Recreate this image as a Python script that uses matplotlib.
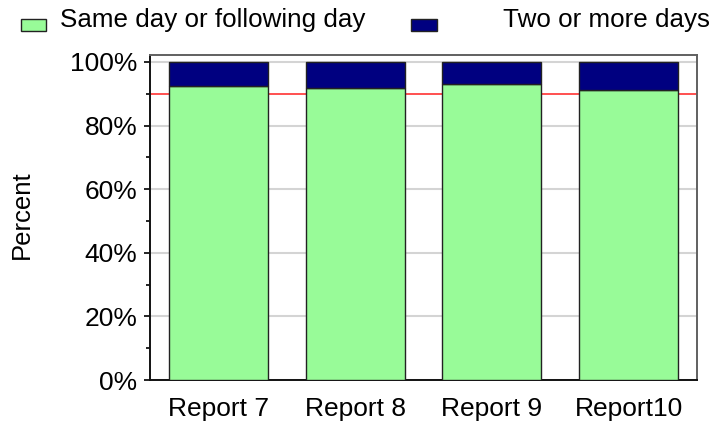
import matplotlib
matplotlib.use("Agg")
import matplotlib.pyplot as plt
from matplotlib.patches import Rectangle
from matplotlib.ticker import MultipleLocator, FuncFormatter

categories = ["Report 7", "Report 8", "Report 9", "Report10"]
same_day = [92.4, 91.8, 93.0, 91.1]
two_or_more = [100 - v for v in same_day]
series_labels = ["Same day or following day", "Two or more days"]
target = 90
yticks = [0, 20, 40, 60, 80, 100]

green = "#98FB98"
navy = "#000080"

plt.rcParams["font.family"] = ["Liberation Sans", "DejaVu Sans"]

W, H = 722, 425
fig = plt.figure(figsize=(W / 100, H / 100), dpi=100)
ax = fig.add_axes([150 / W, 1 - 380 / H, (697 - 150) / W, (380 - 55) / H])

x = list(range(len(categories)))
ax.bar(x, same_day, width=0.725, color=green, edgecolor="#222222", linewidth=1.0, zorder=3)
ax.bar(x, two_or_more, bottom=same_day, width=0.725, color=navy, edgecolor="#222222",
       linewidth=1.0, zorder=3)

ax.axhline(target, color="#ff2020", linewidth=1.1, zorder=2)

ax.set_xlim(-0.5, len(categories) - 0.5)
ax.set_ylim(0, 102.2)
ax.set_yticks(yticks)
ax.yaxis.set_major_formatter(FuncFormatter(lambda v, p: f"{v:.0f}%"))
ax.yaxis.set_minor_locator(MultipleLocator(10))
ax.grid(axis="y", which="major", color="#d4d4d4", linewidth=1.5, zorder=1)
ax.set_axisbelow(True)

ax.set_xticks(x)
ax.set_xticklabels(categories, fontsize=19)
ax.tick_params(axis="x", length=0, pad=12)
ax.tick_params(axis="y", which="major", length=4, width=1.2, pad=5, labelsize=19, colors="black")
ax.tick_params(axis="y", which="minor", length=3, width=1.2)

for s in ["top", "right"]:
    ax.spines[s].set_color("#606060")
    ax.spines[s].set_linewidth(1.4)
for s in ["left", "bottom"]:
    ax.spines[s].set_color("#111111")
    ax.spines[s].set_linewidth(1.4)

fig.text(22 / W, 1 - 215 / H, "Percent", rotation=90, fontsize=18.5, ha="center", va="center")

# legend
fig.patches.append(Rectangle((21 / W, 1 - 31 / H), 25 / W, 12 / H, transform=fig.transFigure,
                             facecolor=green, edgecolor="#222222", linewidth=1.0))
fig.text(60 / W, 1 - 19.5 / H, series_labels[0], fontsize=18.7, ha="left", va="center")
fig.patches.append(Rectangle((411 / W, 1 - 31 / H), 26 / W, 12 / H, transform=fig.transFigure,
                             facecolor=navy, edgecolor="#222222", linewidth=1.0))
fig.text(503 / W, 1 - 19.5 / H, series_labels[1], fontsize=18.7, ha="left", va="center")

fig.savefig("out.png", dpi=100)
